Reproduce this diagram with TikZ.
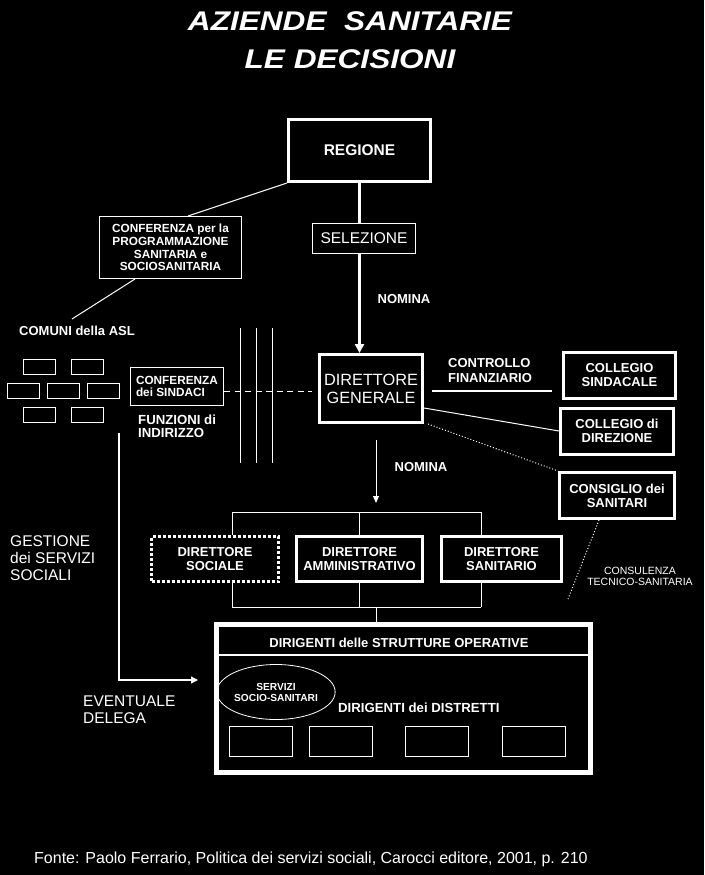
\documentclass[tikz,border=0pt]{standalone}
\usepackage{fontspec}
\usepackage{graphicx}
\setmainfont{Liberation Sans}
\usetikzlibrary{arrows.meta,shapes.geometric,calc}
\begin{document}
\begin{tikzpicture}[x=1pt,y=-1pt,
  wt/.style={text=white, inner sep=0pt},
  bsz/.style={font=\bfseries\fontsize{13}{14}\selectfont},
  heavybox/.style={draw=white, line width=3pt, fill=black, inner sep=0pt, text=white, align=center},
  lightbox/.style={draw=white, line width=1pt, inner sep=0pt, text=white, align=center},
  wire/.style={draw=white, line width=1pt},
  smallbox/.style={lightbox, minimum width=32pt, minimum height=15pt},
  distbox/.style={lightbox, minimum width=63pt, minimum height=30pt}]
\useasboundingbox[fill=black] (0,0) rectangle (704,875);

% title
\node[wt, font=\bfseries\itshape\fontsize{27}{37.5}\selectfont, align=center] (title) at (350,40)
  {\scalebox{1.17}[1]{AZIENDE\ \ SANITARIE}\\\scalebox{1.17}[1]{LE DECISIONI}};

% top part
\node[heavybox, minimum width=142pt, minimum height=62pt, font=\bfseries\fontsize{15.5}{18}\selectfont] (regione) at (359.5,150.5) {REGIONE};
\node[lightbox, minimum width=103pt, minimum height=30pt, font=\fontsize{15.5}{18}\selectfont] (sel) at (364,238.5) {SELEZIONE};
\node[wt,bsz] (nom1) at (404,299) {NOMINA};
\node[lightbox, minimum width=142pt, minimum height=62pt, font=\bfseries\fontsize{11.8}{12.8}\selectfont] (conf1) at (170.5,247.5)
  {CONFERENZA per la\\PROGRAMMAZIONE\\SANITARIA e\\SOCIOSANITARIA};
\node[wt,bsz] (comuni) at (77,331) {COMUNI della ASL};
\coordinate (cend) at (72,319);

% comuni boxes
\node[smallbox] (m1) at (39.5,367) {};
\node[smallbox] (m2) at (87.5,367) {};
\node[smallbox] (m3) at (23.5,391) {};
\node[smallbox] (m4) at (63.5,391) {};
\node[smallbox] (m5) at (103.5,391) {};
\node[smallbox] (m6) at (39.5,415) {};
\node[smallbox] (m7) at (87.5,415) {};

\node[lightbox, minimum width=93pt, minimum height=38pt, align=left, font=\bfseries\fontsize{11.8}{11.7}\selectfont] (sind) at (177,386.5)
  {CONFERENZA\\dei SINDACI};
\node[wt, font=\bfseries\fontsize{13.2}{13.4}\selectfont, align=left, anchor=west] (funz) at (138,426) {FUNZIONI di\\INDIRIZZO};

\foreach \xx in {240,256,272} \draw[wire] (\xx,328) -- (\xx,463);

% direttore generale and organs
\node[heavybox, minimum width=103pt, minimum height=68pt, font=\fontsize{16.3}{18}\selectfont] (dg) at (371,388.5) {DIRETTORE\\GENERALE};
\node[wt, font=\bfseries\fontsize{13}{14.5}\selectfont, align=left, anchor=west] (ctrl) at (448,370.5) {CONTROLLO\\FINANZIARIO};
\node[heavybox, minimum width=112pt, minimum height=46pt, bsz] (csind) at (619.5,375.5) {COLLEGIO\\SINDACALE};
\node[heavybox, minimum width=113pt, minimum height=46pt, bsz] (cdir) at (617,431) {COLLEGIO di\\DIREZIONE};
\node[heavybox, minimum width=115pt, minimum height=46pt, bsz] (cons) at (617,495.5) {CONSIGLIO dei\\SANITARI};

% connectors top
\draw[white, line width=3pt] (regione.south) -- (regione.south |- sel.north);
\draw[white, line width=3pt, -{Triangle[length=9pt,width=9pt]}] (regione.south |- sel.south) -- (regione.south |- dg.north);
\draw[wire] (regione.south west) -- ([xshift=17.5pt]conf1.north);
\draw[wire] ([xshift=-35.5pt]conf1.south) -- (cend);
\draw[wire, dash pattern=on 6pt off 4.5pt, shorten >=6pt] ([yshift=-4.5pt]sind.east) -- ([yshift=-2.5pt]dg.west);
\coordinate (cf) at ([yshift=-2.5pt]dg.east);
\draw[white, line width=2pt, shorten <=8pt, shorten >=10pt] (cf) -- (cf -| csind.west);
\draw[wire] ([yshift=-19.5pt]dg.east) -- (cdir.west);
\draw[wire, dotted] ([xshift=4pt]dg.south east) -- (cons.north west);

% second nomina
\coordinate (btop) at (376,512);
\draw[wire, -{Triangle[length=7pt,width=6pt]}, shorten <=16pt, shorten >=9pt] ([xshift=5pt]dg.south) -- (btop);
\node[wt,bsz] (nom2) at (421,467) {NOMINA};

% directors row
\node[heavybox, dash pattern=on 3pt off 2pt, minimum width=127pt, minimum height=45pt, bsz] (soc) at (215,559) {DIRETTORE\\SOCIALE};
\node[heavybox, minimum width=126pt, minimum height=45pt, bsz] (amm) at (359.5,559) {DIRETTORE\\AMMINISTRATIVO};
\node[heavybox, minimum width=120pt, minimum height=45pt, bsz] (san) at (501.5,559) {DIRETTORE\\SANITARIO};

\coordinate (bl) at (232,512);
\coordinate (br) at (481,512);
\coordinate (bbl) at (232,607);
\coordinate (bbr) at (481,607);
\draw[wire] (bl) -- (br);
\draw[wire] (bbl) -- (bbr);
\draw[wire] (bl) -- (bl |- soc.north);
\draw[wire] (bbl) -- (bbl |- soc.south);
\draw[wire] (amm.north |- bl) -- (amm.north);
\draw[wire] (amm.south) -- (amm.south |- bbl);
\draw[wire] (br) -- (br |- san.north);
\draw[wire] (bbr) -- (bbr |- san.south);

\node[wt, font=\fontsize{10.5}{11}\selectfont, align=center] (consul) at (640,576.5) {CONSULENZA\\TECNICO-SANITARIA};
\coordinate (cdend) at (568,599);
\draw[wire, dotted] ([xshift=-18pt]cons.south) -- (cdend);

\node[wt, font=\fontsize{15.5}{17}\selectfont, align=left, anchor=west] (gest) at (10,558) {GESTIONE\\dei SERVIZI\\SOCIALI};

% big box
\node[draw=white, line width=5pt, minimum width=374pt, minimum height=148pt, inner sep=0pt] (big) at (403.5,698.5) {};
\coordinate (stem) at (376,607);
\draw[wire] (stem) -- (stem |- big.north);
\coordinate (hl) at (0,655);
\draw[white, line width=1.3pt] (big.west |- hl) -- (big.east |- hl);
\node[wt,bsz] (dso) at (399,643) {DIRIGENTI delle STRUTTURE OPERATIVE};
\node[draw=white, line width=0.8pt, ellipse, minimum width=104pt, minimum height=55pt, inner sep=0pt, text=white, align=center,
  font=\bfseries\fontsize{10.2}{11}\selectfont] (ell) at (276,692) {SERVIZI\\SOCIO-SANITARI};
\node[wt, font=\bfseries\fontsize{13.2}{15}\selectfont, anchor=west] (ddist) at (338,708) {DIRIGENTI dei DISTRETTI};
\node[distbox] (d1) at (261,741.5) {};
\node[distbox] (d2) at (341,741.5) {};
\node[distbox] (d3) at (437,741.5) {};
\node[distbox] (d4) at (533.5,741.5) {};

% delega arrow
\coordinate (lstart) at (119,433);
\coordinate (lcorner) at (119,680);
\draw[white, line width=1.2pt, -{Triangle[length=7pt,width=7pt]}, shorten >=16pt] (lstart) -- (lcorner) -- (lcorner -| big.west);
\node[wt, font=\fontsize{15.5}{17}\selectfont, align=left, anchor=west] (ev) at (83,709.5) {EVENTUALE\\DELEGA};

% source
\node[wt, font=\fontsize{16}{18}\selectfont, anchor=west] (fonte) at (34,859)
  {Fonte: Paolo Ferrario, Politica dei servizi sociali, Carocci editore, 2001, p. 210};
\end{tikzpicture}
\end{document}
